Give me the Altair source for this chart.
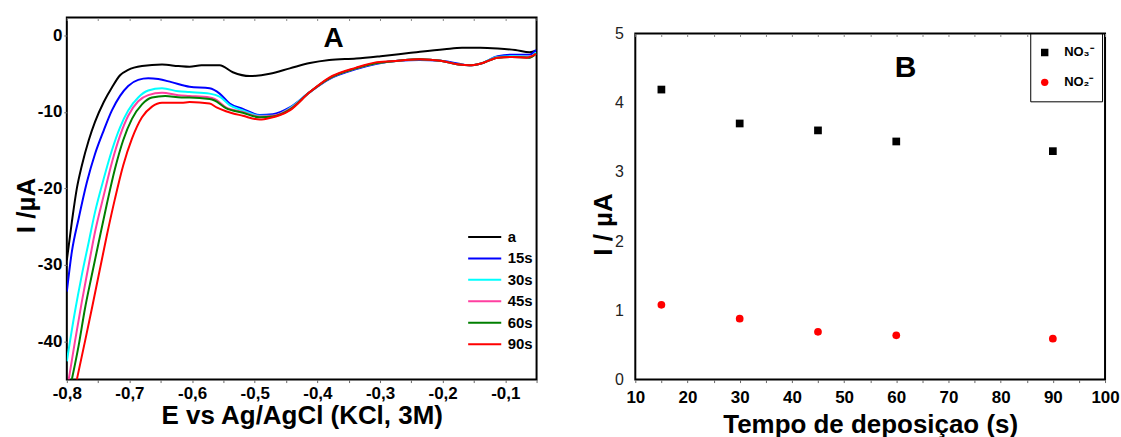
import altair as alt
import pandas as pd

FONT = "Liberation Sans"

# ---------------- Panel A data ----------------
series_names = ["a", "15s", "30s", "45s", "60s", "90s"]
series_colors = ["#000000", "#0000ff", "#00ffff", "#ff3fa0", "#007f00", "#ff0000"]

x_a = [-0.800, -0.792, -0.784, -0.776, -0.765, -0.755, -0.741, -0.728, -0.715, -0.702,
       -0.680, -0.648, -0.622, -0.604, -0.585, -0.556, -0.535, -0.508, -0.476, -0.444,
       -0.412, -0.381, -0.338, -0.299, -0.254, -0.197, -0.169, -0.140, -0.112, -0.084,
       -0.061, -0.051]
y_a = [-29.4, -24.4, -20.0, -17.0, -13.7, -11.3, -8.7, -6.8, -5.2, -4.5,
       -4.0, -3.8, -4.0, -4.1, -3.9, -3.9, -4.8, -5.3, -5.0, -4.3,
       -3.6, -3.2, -3.0, -2.7, -2.3, -1.8, -1.6, -1.6, -1.7, -1.9,
       -2.2, -2.0]

x_15 = [-0.800, -0.792, -0.781, -0.768, -0.755, -0.741, -0.728, -0.715, -0.702, -0.686,
        -0.670, -0.654, -0.633, -0.604, -0.572, -0.556, -0.540, -0.519, -0.492, -0.471,
        -0.444, -0.412, -0.381, -0.338, -0.305, -0.271, -0.237, -0.203, -0.174, -0.157,
        -0.140, -0.112, -0.089, -0.061, -0.051]
y_15 = [-33.5, -28.3, -23.9, -19.2, -15.5, -12.4, -9.8, -7.9, -6.6, -5.8,
        -5.6, -5.7, -6.1, -6.7, -6.9, -7.6, -8.9, -9.6, -10.4, -10.3,
        -9.4, -7.4, -5.7, -4.4, -3.7, -3.3, -3.2, -3.3, -3.7, -3.9,
        -3.7, -2.7, -2.5, -2.5, -1.9]

x_30 = [-0.800, -0.787, -0.776, -0.765, -0.755, -0.741, -0.728, -0.715, -0.702, -0.686,
        -0.670, -0.648, -0.622, -0.604, -0.572, -0.556, -0.540, -0.519, -0.492, -0.471,
        -0.444, -0.412, -0.381, -0.338, -0.305, -0.271, -0.237, -0.203, -0.174, -0.157,
        -0.140, -0.112, -0.089, -0.061, -0.051]
y_30 = [-42.6, -36.1, -31.3, -27.0, -23.1, -18.7, -15.0, -12.0, -9.8, -8.1,
        -7.2, -6.9, -7.3, -7.4, -7.6, -8.0, -9.1, -9.8, -10.5, -10.5,
        -9.5, -7.4, -5.6, -4.3, -3.6, -3.3, -3.1, -3.3, -3.8, -3.9,
        -3.7, -2.8, -2.7, -2.8, -2.2]

x_45 = [-0.797, -0.787, -0.776, -0.765, -0.755, -0.741, -0.728, -0.715, -0.702, -0.686,
        -0.670, -0.648, -0.622, -0.604, -0.572, -0.564, -0.546, -0.519, -0.492, -0.471,
        -0.444, -0.412, -0.381, -0.338, -0.305, -0.271, -0.237, -0.203, -0.174, -0.157,
        -0.140, -0.112, -0.089, -0.061, -0.051]
y_45 = [-45.0, -40.0, -34.8, -30.0, -25.7, -20.9, -16.6, -13.1, -10.5, -8.6,
        -7.8, -7.5, -7.8, -7.9, -8.1, -8.3, -9.4, -10.0, -10.6, -10.5,
        -9.6, -7.4, -5.6, -4.3, -3.6, -3.3, -3.1, -3.3, -3.8, -3.9,
        -3.7, -2.9, -2.8, -2.9, -2.4]

x_60 = [-0.792, -0.781, -0.771, -0.760, -0.749, -0.736, -0.723, -0.710, -0.696, -0.680,
        -0.664, -0.643, -0.617, -0.604, -0.572, -0.564, -0.546, -0.519, -0.492, -0.471,
        -0.444, -0.412, -0.381, -0.338, -0.305, -0.271, -0.237, -0.203, -0.174, -0.157,
        -0.140, -0.112, -0.089, -0.061, -0.051]
y_60 = [-45.0, -40.5, -35.7, -31.3, -27.0, -22.0, -17.4, -13.7, -10.9, -9.0,
        -8.1, -7.9, -8.1, -8.1, -8.3, -8.5, -9.5, -10.1, -10.7, -10.6,
        -9.7, -7.4, -5.6, -4.3, -3.6, -3.3, -3.1, -3.3, -3.8, -3.9,
        -3.7, -2.9, -2.8, -2.9, -2.4]

x_90 = [-0.784, -0.771, -0.760, -0.749, -0.736, -0.723, -0.710, -0.696, -0.680, -0.664,
        -0.648, -0.617, -0.604, -0.572, -0.561, -0.546, -0.519, -0.492, -0.476, -0.444,
        -0.412, -0.381, -0.338, -0.305, -0.271, -0.237, -0.203, -0.174, -0.157, -0.140,
        -0.112, -0.089, -0.066, -0.058, -0.051]
y_90 = [-45.0, -40.0, -35.7, -31.3, -26.1, -21.3, -17.0, -13.5, -10.7, -9.3,
        -8.8, -8.8, -8.7, -8.9, -9.4, -9.9, -10.5, -11.0, -10.8, -9.8,
        -7.4, -5.5, -4.2, -3.5, -3.3, -3.1, -3.3, -3.8, -3.9, -3.7,
        -2.9, -2.8, -2.9, -2.7, -2.4]

a_x_ticks = [-0.8, -0.75, -0.7, -0.65, -0.6, -0.55, -0.5, -0.45, -0.4, -0.35,
             -0.3, -0.25, -0.2, -0.15, -0.1, -0.05]
a_y_ticks = [0, -10, -20, -30, -40]

# ---------------- Panel B data ----------------
times = [15, 30, 45, 60, 90]
no3 = [4.19, 3.70, 3.60, 3.44, 3.30]
no2 = [1.08, 0.88, 0.69, 0.64, 0.59]
ion_labels = ["NO\u2083\u207b", "NO\u2082\u207b"]
b_x_ticks = [10, 15, 20, 25, 30, 35, 40, 45, 50, 55, 60, 65, 70, 75, 80, 85, 90, 95, 100]
b_y_ticks = [0, 1, 2, 3, 4, 5]

# ---------------- build tables ----------------
xs = [x_a, x_15, x_30, x_45, x_60, x_90]
ys = [y_a, y_15, y_30, y_45, y_60, y_90]
rows = []
for name, xv, yv in zip(series_names, xs, ys):
    for xx, yy in zip(xv, yv):
        rows.append({"E": xx, "I": yy, "serie": name})
df_a = pd.DataFrame(rows)

df_b = pd.DataFrame({
    "t": times + times,
    "I": no3 + no2,
    "ion": [ion_labels[0]] * len(times) + [ion_labels[1]] * len(times),
})

# ---------------- Panel A ----------------
x_scale_a = alt.Scale(domain=[-0.8, -0.05], nice=False, zero=False)
y_scale_a = alt.Scale(domain=[-45, 2.35], nice=False, zero=False)

lines = alt.Chart(df_a).mark_line(strokeWidth=2, interpolate="monotone", clip=True).encode(
    x=alt.X("E:Q", scale=x_scale_a, axis=alt.Axis(
        values=a_x_ticks,
        labelExpr="(round(datum.value*100) % 10 == 0) ? ((datum.value < 0 ? '-' : '') + replace(format(abs(datum.value), '.1f'), '.', ',')) : ''",
        title="E vs Ag/AgCl (KCl, 3M)", labelPadding=3, titlePadding=1)),
    y=alt.Y("I:Q", scale=y_scale_a, axis=alt.Axis(
        values=a_y_ticks,
        labelExpr="(datum.value < 0 ? '-' : '') + format(abs(datum.value), 'd')",
        title="I /\u00b5A", titleX=-40, titleY=188, titleBaseline="middle", titleAlign="center",
        labelPadding=2)),
    color=alt.Color("serie:N", scale=alt.Scale(domain=series_names, range=series_colors),
                    legend=alt.Legend(title=None, orient="none", legendX=401, legendY=212,
                                      symbolType="stroke", symbolSize=1100, symbolStrokeWidth=2,
                                      labelFont=FONT, labelFontSize=15, labelFontWeight="bold",
                                      labelColor="black", clipHeight=16, rowPadding=5.5,
                                      labelOffset=5, padding=0)),
)

# "A" tag; its x axis only draws the small inward ticks along the top edge
label_a = alt.Chart(pd.DataFrame({"E": [-0.374], "I": [-0.5], "t": ["A"]})).mark_text(
    font=FONT, fontSize=28, fontWeight="bold", color="black").encode(
    x=alt.X("E:Q", scale=x_scale_a, axis=alt.Axis(
        orient="bottom", offset=-363, values=a_x_ticks, labels=False, title="",
        tickSize=3, tickColor="#888888")),
    y=alt.Y("I:Q", scale=y_scale_a), text="t:N")

chart_a = alt.layer(lines, label_a).resolve_axis(x="independent").properties(width=471, height=363)

# ---------------- Panel B ----------------
x_scale_b = alt.Scale(domain=[10, 100], nice=False, zero=False)
y_scale_b = alt.Scale(domain=[0, 5], nice=False)
legend_b = alt.Legend(title=None, orient="none", legendX=396, legendY=16,
                      strokeColor="black", fillColor="white", padding=8,
                      symbolSize=55, labelFont=FONT, labelFontSize=13, labelFontWeight="bold",
                      labelColor="black", clipHeight=22, rowPadding=8, labelOffset=13)

pts = alt.Chart(df_b).mark_point(filled=True, size=60, opacity=1).encode(
    x=alt.X("t:Q", scale=x_scale_b, axis=alt.Axis(
        values=b_x_ticks,
        labelExpr="(datum.value % 10 == 0) ? format(datum.value, 'd') : ''",
        title="Tempo de deposi\u00e7ao (s)", labelPadding=7, titlePadding=6)),
    y=alt.Y("I:Q", scale=y_scale_b, axis=alt.Axis(
        values=b_y_ticks, format="d", labelFontWeight="normal", labelFontSize=16,
        labelColor="#222222", ticks=False, labelPadding=12,
        title="I / \u00b5A", titleX=-32, titleY=191, titleBaseline="middle", titleAlign="center")),
    color=alt.Color("ion:N", scale=alt.Scale(domain=ion_labels, range=["#000000", "#ff0000"]),
                    legend=legend_b),
    shape=alt.Shape("ion:N", scale=alt.Scale(domain=ion_labels, range=["square", "circle"]),
                    legend=legend_b),
)

label_b = alt.Chart(pd.DataFrame({"t": [61.8], "I": [4.5], "s": ["B"]})).mark_text(
    font=FONT, fontSize=30, fontWeight="bold", color="black").encode(
    x=alt.X("t:Q", scale=x_scale_b, axis=alt.Axis(
        orient="bottom", offset=-347, values=b_x_ticks, labels=False, title="",
        tickSize=3, tickColor="#888888")),
    y=alt.Y("I:Q", scale=y_scale_b), text="s:N")

chart_b = alt.layer(pts, label_b).resolve_axis(x="independent").properties(width=471, height=347)

# empty spacer above panel B (pushes B down relative to A)
spacer = alt.Chart(pd.DataFrame({"v": [0]})).mark_point(opacity=0).encode(
    x=alt.value(0), y=alt.value(0)
).properties(width=471, height=1, view=alt.ViewBackground(strokeWidth=0, stroke="transparent"))

right = alt.vconcat(spacer, chart_b, spacing=4)

chart = alt.hconcat(chart_a, right, spacing=51).resolve_scale(
    color="independent", shape="independent"
).configure(
    padding={"left": 13, "top": 14, "right": 0, "bottom": 0},
    font=FONT,
).configure_view(
    stroke="black", strokeWidth=2
).configure_axis(
    labelFont=FONT, labelFontSize=17, labelFontWeight="bold", labelColor="black",
    titleFont=FONT, titleFontSize=26, titleFontWeight="bold", titleColor="black",
    domain=False, grid=False, ticks=True, tickSize=3, tickColor="#666666", tickWidth=1,
    labelFlush=False, labelOverlap=False,
)

chart.save("out.html", embed_options={"renderer": "svg", "actions": False})
